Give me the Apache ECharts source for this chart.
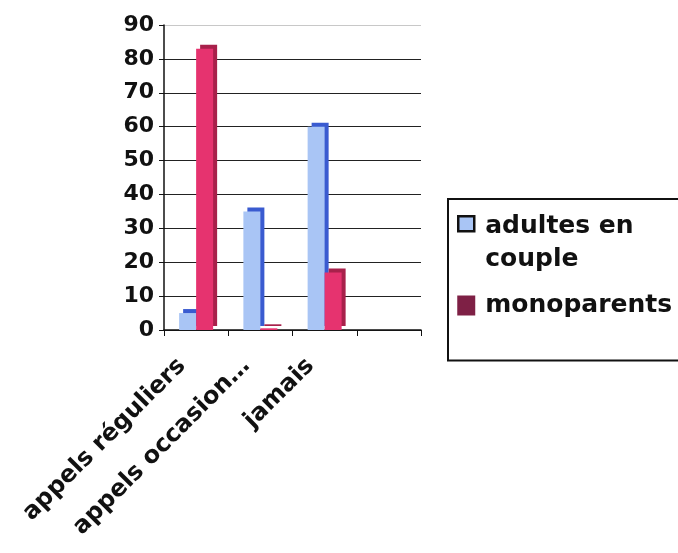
<!DOCTYPE html>
<html>
<head>
<meta charset="utf-8">
<script src="https://cdn.jsdelivr.net/npm/echarts@6/dist/echarts.min.js"></script>
<style>
  html, body { margin: 0; padding: 0; background: #fff; }
  #div_chart { width: 678px; height: 553px; }
</style>
</head>
<body>
<div id="div_chart"></div>
<script>
// categories (4th slot is empty in the original)
var categories = ['appels réguliers', 'appels occasion…', 'jamais', ''];
var couples = [5, 35, 60, null];
var monoparents = [83, 0.5, 17, null];
var seriesNames = ['adultes en\ncouple', 'monoparents'];

var initChart = function () {
    var myChart = echarts.init(document.getElementById('div_chart'));
    var font = 'DejaVu Sans';
    var gridColors = ['#222', '#222', '#222', '#222', '#222', '#222', '#222', '#222', '#222', '#c8c8c8'];
    var option = {
        animation: false,
        textStyle: { fontFamily: font },
        grid: { left: 164, right: 257, top: 25, bottom: 223 },
        legend: {
            orient: 'vertical',
            left: 448,
            top: 199,
            padding: [10, 12, 22, 8],
            itemGap: -5,
            itemWidth: 18,
            itemHeight: 66,
            borderColor: '#111',
            borderWidth: 2,
            textStyle: { fontFamily: font, fontWeight: 'bold', fontSize: 25, color: '#111', lineHeight: 33, padding: [0, 0, 0, 5] },
            data: [
                {
                    name: seriesNames[0],
                    // square sits beside the first text line
                    icon: 'path://M0,0 M1,6H17V21H1Z M18,66',
                    itemStyle: { color: '#a9c5f5', borderColor: '#111', borderWidth: 2.5, shadowColor: 'transparent' }
                },
                {
                    name: seriesNames[1],
                    icon: 'path://M0,0 M0,23H18V43H0Z M18,66',
                    itemStyle: { color: '#7e2045', borderWidth: 0, shadowColor: 'transparent' }
                }
            ]
        },
        xAxis: {
            type: 'category',
            data: categories,
            axisLine: { lineStyle: { color: '#111', width: 1.5 } },
            axisTick: { show: true, alignWithLabel: false, length: 6, lineStyle: { color: '#111' } },
            axisLabel: {
                interval: 0,
                rotate: 45,
                margin: 18,
                padding: [0, 20, 0, 0],
                fontFamily: font,
                fontWeight: 'bold',
                fontSize: 24,
                color: '#111'
            }
        },
        yAxis: {
            type: 'value',
            min: 0,
            max: 90,
            interval: 10,
            axisLine: { show: true, lineStyle: { color: '#111', width: 1.5 } },
            axisTick: { show: true, length: 5, lineStyle: { color: '#111' } },
            axisLabel: { fontFamily: font, fontWeight: 'bold', fontSize: 22, color: '#111', margin: 10 },
            splitLine: { lineStyle: { color: gridColors, width: 1.2 } }
        },
        series: [
            {
                name: seriesNames[0],
                type: 'bar',
                data: couples,
                barWidth: 17,
                barGap: '0%',
                itemStyle: {
                    color: '#a9c5f5',
                    shadowColor: '#3a5bd0',
                    shadowBlur: 0,
                    shadowOffsetX: 4,
                    shadowOffsetY: -4
                }
            },
            {
                name: seriesNames[1],
                type: 'bar',
                data: monoparents,
                barWidth: 17,
                itemStyle: {
                    color: '#e6336f',
                    shadowColor: '#a8214b',
                    shadowBlur: 0,
                    shadowOffsetX: 4,
                    shadowOffsetY: -4
                }
            }
        ]
    };
    myChart.setOption(option);
};

initChart();
</script>
</body>
</html>
